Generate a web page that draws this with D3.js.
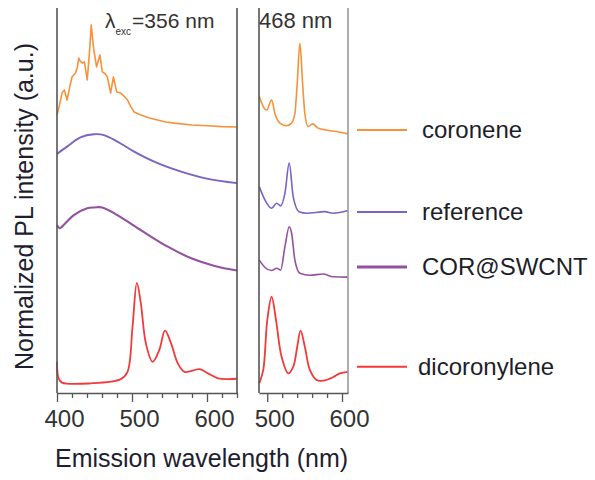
<!DOCTYPE html>
<html>
<head>
<meta charset="utf-8">
<script src="https://cdn.jsdelivr.net/npm/d3@7"></script>
<style>
  html, body { margin: 0; padding: 0; background: #fff; }
  svg { display: block; font-family: "Liberation Sans", Arial, sans-serif; }
</style>
</head>
<body>
<svg id="chart" width="595" height="480"></svg>
<script>
// Stacked, normalized PL spectra (arbitrary offset units), [wavelength nm, intensity]
// Left panel: excitation at 356 nm
const coroneneExc356 = [
  [400, 7.22], [403, 7.45], [406.7, 7.79], [409.8, 7.87], [413.4, 7.61], [417, 7.95],
  [420.1, 8.21], [424.6, 8.31], [427, 8.45], [429, 8.70], [431, 8.62], [433.6, 8.57],
  [436.6, 8.60], [440.3, 8.13], [443.5, 8.9], [445.6, 9.56], [447.5, 9.2], [449.1, 8.91],
  [452.8, 8.47], [457.2, 8.78], [460.4, 8.34], [464, 8.3], [467.1, 8.21], [471.5, 7.79],
  [475.2, 8.21], [479.6, 7.82], [485, 7.79], [490, 7.70], [494, 7.61], [498, 7.45],
  [502.8, 7.30], [511.8, 7.22], [522, 7.15], [534, 7.09], [545, 7.04], [556.5, 7.01],
  [580, 6.96], [601, 6.94], [620, 6.92], [640, 6.91]
];
const referenceExc356 = [
  [400, 6.21], [413.4, 6.40], [431.3, 6.64], [449.1, 6.72], [462.6, 6.70], [480.5, 6.53],
  [502.8, 6.27], [534.2, 5.97], [565.5, 5.75], [601.3, 5.56], [640, 5.45]
];
const corSwcntExc356 = [
  [400, 4.36], [403.5, 4.28], [406.7, 4.32], [422.4, 4.62], [440.3, 4.80], [450, 4.82],
  [460.4, 4.82], [480.5, 4.62], [511.8, 4.23], [547.7, 3.80], [579, 3.50], [610.3, 3.30], [640, 3.18]
];
const dicoronyleneExc356 = [
  [400, 0.81], [402.1, 0.38], [406.7, 0.27], [444.7, 0.25], [485, 0.36], [494, 0.55],
  [500.7, 1.72], [506.5, 2.86], [511.8, 2.33], [518.5, 1.29], [527.5, 0.81], [536.4, 1.12],
  [544, 1.62], [552.1, 1.29], [561.1, 0.77], [570, 0.55], [590.2, 0.62], [601.3, 0.51],
  [614.8, 0.38], [628.2, 0.36], [640, 0.37]
];

// Right panel: excitation at 468 nm
const coroneneExc468 = [
  [489.4, 7.70], [494.7, 7.44], [499.3, 7.35], [505.9, 7.61], [510.3, 7.26], [517, 7.01],
  [525.9, 6.94], [532.6, 7.01], [537, 7.26], [540.1, 8.04], [543.7, 9.08], [547.3, 8.04],
  [550.3, 7.26], [554.7, 6.92], [560.6, 6.99], [568, 6.88], [579.1, 6.83], [592.5, 6.79], [608, 6.73]
];
const referenceExc468 = [
  [489.4, 5.36], [497, 5.01], [505.9, 4.80], [512.6, 4.93], [517.9, 4.86], [523.7, 5.19],
  [529.4, 5.97], [534.7, 5.10], [542.7, 4.71], [552.6, 4.67], [577, 4.71], [588.1, 4.67], [608, 4.74]
];
const corSwcntExc468 = [
  [489.4, 3.45], [497, 3.26], [505.9, 3.18], [512.6, 3.24], [517.9, 3.19], [523.7, 3.80],
  [529.4, 4.32], [532.6, 4.15], [537, 3.45], [543.7, 3.11], [557, 3.06], [574.7, 3.09],
  [588.1, 3.02], [608, 3.01]
];
const dicoronyleneExc468 = [
  [489.4, 0.25], [494.7, 0.60], [500.1, 1.90], [505.9, 2.50], [511.7, 1.90], [519.2, 0.94],
  [528, 0.51], [534.7, 0.68], [540.1, 1.20], [544.6, 1.62], [550.3, 1.20], [557, 0.60],
  [565.9, 0.34], [574.7, 0.32], [588.1, 0.41], [597, 0.51], [608, 0.55]
];

const seriesNames = ["coronene", "reference", "COR@SWCNT", "dicoronylene"];
const seriesColors = ["#f7923a", "#7a63c4", "#93519f", "#f23a3a"];
const legendLevels = [6.83, 4.70, 3.27, 0.68];   // legend rows, in intensity units

const leftDomain = [400, 640];
const rightDomain = [489, 608];
const leftMajorTicks = [400, 500, 600];
const rightMajorTicks = [500, 600];
const minorStep = 20;

const svg = d3.select("#chart");
const frameTop = 8, frameBottom = 393;

const xL = d3.scaleLinear().domain(leftDomain).range([57, 237]);
const xR = d3.scaleLinear().domain(rightDomain).range([259, 348]);
const y = d3.scaleLinear().domain([0, 10]).range([frameBottom, frameTop]);

function minorTicks(domain) {
  const t = [];
  for (let v = Math.ceil(domain[0] / minorStep) * minorStep; v <= domain[1]; v += minorStep) t.push(v);
  return t;
}

function drawPanel(x, domain, majors, rightSpineColor, spectra) {
  const g = svg.append("g");
  const [x0, x1] = x.range();
  // spectra
  spectra.forEach(([data, color, width, crv]) => {
    g.append("path")
      .datum(data)
      .attr("fill", "none")
      .attr("stroke", color)
      .attr("stroke-width", width)
      .attr("stroke-linejoin", "round")
      .attr("d", d3.line().x(d => x(d[0])).y(d => y(d[1])).curve(crv));
  });
  // side spines
  g.append("line").attr("x1", x0).attr("x2", x0).attr("y1", frameTop).attr("y2", frameBottom)
    .attr("stroke", "#555").attr("stroke-width", 1.6);
  g.append("line").attr("x1", x1).attr("x2", x1).attr("y1", frameTop).attr("y2", frameBottom)
    .attr("stroke", rightSpineColor).attr("stroke-width", 1.6);
  // minor ticks
  const minorAxis = d3.axisBottom(x).tickValues(minorTicks(domain).filter(v => !majors.includes(v)))
    .tickSize(5).tickSizeOuter(0).tickFormat("");
  const gm = g.append("g").attr("transform", `translate(0,${frameBottom})`).call(minorAxis);
  gm.select(".domain").attr("stroke", "#555").attr("stroke-width", 1.6);
  gm.selectAll(".tick line").attr("stroke", "#555").attr("stroke-width", 1.3);
  // major ticks with labels
  const majorAxis = d3.axisBottom(x).tickValues(majors).tickSize(9).tickSizeOuter(0)
    .tickFormat(d3.format("d"));
  const gM = g.append("g").attr("transform", `translate(0,${frameBottom})`).call(majorAxis);
  gM.select(".domain").remove();
  gM.selectAll(".tick line").attr("stroke", "#555").attr("stroke-width", 1.3);
  gM.selectAll(".tick text")
    .attr("font-family", "Liberation Sans, Arial, sans-serif")
    .attr("font-size", 24).attr("fill", "#333")
    .attr("dx", 7).attr("y", 17).attr("dy", "0.71em");
  return g;
}

drawPanel(xL, leftDomain, leftMajorTicks, "#555", [
  [coroneneExc356, seriesColors[0], 1.6, d3.curveLinear],
  [referenceExc356, seriesColors[1], 1.9, d3.curveCatmullRom],
  [corSwcntExc356, seriesColors[2], 2.1, d3.curveCatmullRom],
  [dicoronyleneExc356, seriesColors[3], 1.8, d3.curveCatmullRom]
]);
drawPanel(xR, rightDomain, rightMajorTicks, "#9a9a9a", [
  [coroneneExc468, seriesColors[0], 1.6, d3.curveMonotoneX],
  [referenceExc468, seriesColors[1], 1.6, d3.curveMonotoneX],
  [corSwcntExc468, seriesColors[2], 1.6, d3.curveMonotoneX],
  [dicoronyleneExc468, seriesColors[3], 1.8, d3.curveCatmullRom]
]);

// panel headings
const h1 = svg.append("text").attr("x", 105).attr("y", 28)
  .attr("font-size", 21).attr("fill", "#333");
h1.append("tspan").text("λ");
h1.append("tspan").attr("font-size", 10).attr("dy", 7).text("exc");
h1.append("tspan").attr("dy", -7).attr("dx", 1).text("=356 nm");
svg.append("text").attr("x", 259).attr("y", 28)
  .attr("font-size", 22).attr("fill", "#333").text("468 nm");

// legend
const legend = svg.append("g");
seriesNames.forEach((name, i) => {
  const ly = y(legendLevels[i]);
  legend.append("line").attr("x1", 357).attr("x2", 407).attr("y1", ly).attr("y2", ly)
    .attr("stroke", seriesColors[i]).attr("stroke-width", i === 2 ? 3 : 2);
  legend.append("text").attr("x", i === 3 ? 418 : 422).attr("y", ly + 8)
    .attr("font-size", 24).attr("fill", "#1e1e28").text(name);
});

// axis titles
svg.append("text").attr("x", 55).attr("y", 467)
  .attr("font-size", 25).attr("fill", "#1e1e30").text("Emission wavelength (nm)");
svg.append("text").attr("transform", "translate(33,370) rotate(-90)")
  .attr("font-size", 25).attr("fill", "#1e1e30").text("Normalized PL intensity (a.u.)");
</script>
</body>
</html>
